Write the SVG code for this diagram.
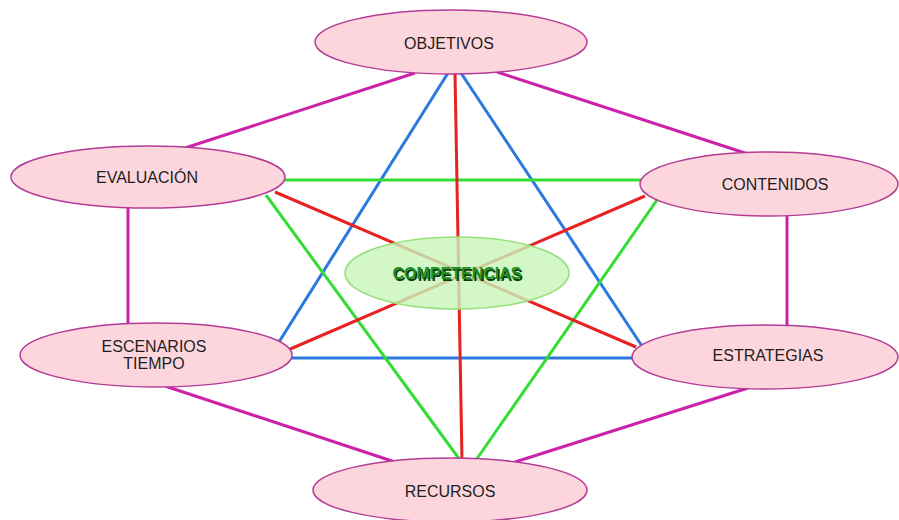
<svg xmlns="http://www.w3.org/2000/svg" width="899" height="520" viewBox="0 0 899 520">
<style>
.n{fill:#fcd6dc;stroke:#b43c96;stroke-width:1.5}
.t{font-family:"Liberation Sans",Arial,sans-serif;font-size:16px;fill:#1e1e1e;text-anchor:middle}
.m{stroke:#cc22aa}
.r{stroke:#e62222}
.b{stroke:#2a78e0}
.g{stroke:#33dd33}
#edges line{stroke-width:3;fill:none}
.c{font-family:"Liberation Sans",Arial,sans-serif;font-size:16px;font-weight:bold;text-anchor:middle}
</style>
<rect width="899" height="520" fill="#ffffff"/>
<g id="edges">
<line class="m" x1="415" y1="73" x2="185" y2="148"/>
<line class="m" x1="497" y1="72" x2="748" y2="154"/>
<line class="m" x1="128" y1="207" x2="128" y2="324"/>
<line class="m" x1="787" y1="215" x2="787" y2="326"/>
<line class="m" x1="165" y1="386" x2="395" y2="462"/>
<line class="m" x1="748" y1="388" x2="515" y2="462"/>
<line class="b" x1="448" y1="73" x2="279" y2="342"/>
<line class="b" x1="461" y1="73" x2="642" y2="346"/>
<line class="b" x1="288" y1="358" x2="634" y2="358"/>
<line class="g" x1="283" y1="180" x2="643" y2="180"/>
<line class="g" x1="266" y1="195" x2="460" y2="460"/>
<line class="g" x1="657" y1="200" x2="476" y2="460"/>
<line class="r" x1="455" y1="73" x2="462" y2="460"/>
<line class="r" x1="275" y1="192" x2="636" y2="347"/>
<line class="r" x1="645" y1="196" x2="288" y2="350"/>
</g>
<g id="objetivos"><ellipse class="n" cx="451" cy="42" rx="136" ry="32"/><text class="t" x="449" y="49">OBJETIVOS</text></g>
<g id="evaluacion"><ellipse class="n" cx="148" cy="177" rx="137" ry="31"/><text class="t" x="147" y="183">EVALUACIÓN</text></g>
<g id="contenidos"><ellipse class="n" cx="769" cy="184" rx="129" ry="32"/><text class="t" x="775" y="190">CONTENIDOS</text></g>
<g id="escenarios"><ellipse class="n" cx="156" cy="355" rx="136" ry="32"/><text class="t" x="154" y="352">ESCENARIOS</text><text class="t" x="154" y="369">TIEMPO</text></g>
<g id="estrategias"><ellipse class="n" cx="765" cy="357" rx="133" ry="32"/><text class="t" x="768" y="361">ESTRATEGIAS</text></g>
<g id="recursos"><ellipse class="n" cx="450" cy="490" rx="137" ry="32"/><text class="t" x="450" y="497">RECURSOS</text></g>
<g id="competencias"><ellipse cx="457" cy="273" rx="112" ry="36" fill="#c8f5b8" fill-opacity="0.8" stroke="#99e07a" stroke-width="1.5"/><text class="c" x="458.5" y="280.5" fill="#0a3a0a">COMPETENCIAS</text><text class="c" x="457" y="279" fill="#1f8f1f">COMPETENCIAS</text></g>
</svg>
